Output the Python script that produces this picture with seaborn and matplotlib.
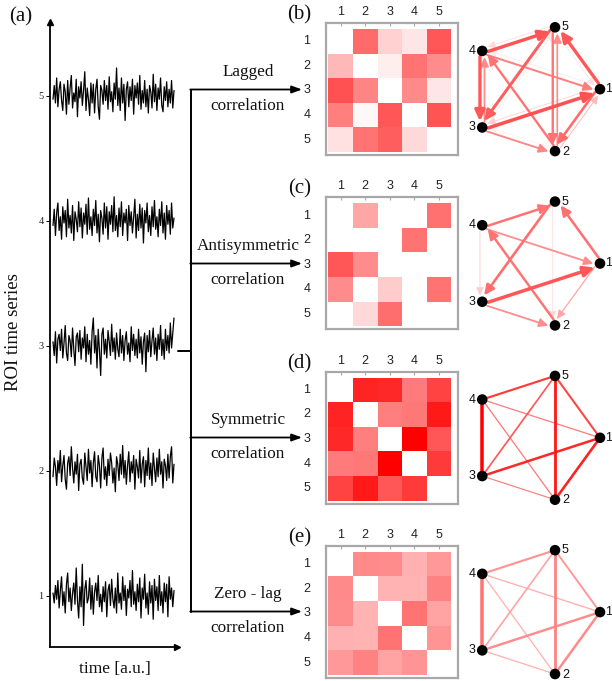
import numpy as np
import pandas as pd
import matplotlib
matplotlib.use("Agg")
import matplotlib.pyplot as plt
import seaborn as sns
from matplotlib.colors import LinearSegmentedColormap
from matplotlib.patches import FancyArrowPatch

sns.set_theme(style="white")
plt.rcParams["font.family"] = ["Liberation Serif", "DejaVu Serif"]

# ---------------------------------------------------------------- data
roi_labels = ["1", "2", "3", "4", "5"]

# ROI signals, deviations from each ROI's baseline (hundredths of a unit)
roi1 = [2, -6, 8, -3, 12, -10, 4, 15, -8, 3,
        -14, 9, 18, -5, 6, -12, 2, 10, -7, 22,
        -4, -18, 7, -9, 25, -24, 5, 12, -6, -2,
        14, -11, 8, -15, 3, 10, -4, 16, -9, 1,
        -13, 7, -5, 11, -17, 4, 9, -8, 13, -3,
        -10, 6, -14, 18, -6, 2, -11, 15, -4, 8,
        -16, 5, -2, 12, -9, 20, -7, 3, -12, 9,
        -5, 14, -18, 6, -3, 17, -10, 2, -15, 11,
        -6, 8, -19, 13, -4, 7, -12, 16, -8, 3,
        -14, 10, -5, 9, -17, 15, -3, 6, -9, 4]
roi2 = [-5, 10, 3, -12, 8, -2, 16, -9, 4, 12,
        -7, -15, 6, 11, -4, 19, 2, -10, 7, -3,
        13, -16, 5, 9, -6, -11, 14, 3, -8, 17,
        -2, 8, -13, 6, 15, -5, -9, 12, 4, -14,
        10, 18, -7, 3, -12, 9, -4, 14, 6, -10,
        2, -17, 11, 5, -8, 13, -3, 20, -6, 8,
        -11, 4, 15, -9, 7, -2, 12, -15, 9, 3,
        -6, 16, -10, 5, 11, -13, 8, -4, 18, -7,
        6, -12, 14, 2, -9, 10, -5, 17, -3, 7,
        -14, 9, 4, -8, 13, -6, 11, 19, -10, 5]
roi3 = [3, -8, 11, -14, 5, 9, -4, 13, -10, 2,
        16, -6, -12, 8, 4, -9, 14, -3, -16, 7,
        10, -5, 12, -11, 6, -2, 15, -13, 9, -7,
        4, -15, 11, 22, -6, 8, -18, 13, -4, -24,
        9, 14, -7, 5, -10, 12, 3, -8, 17, -5,
        6, -11, 10, -3, -9, 13, -6, 8, -12, 4,
        11, -7, 2, -13, 15, -4, 9, -8, 5, -10,
        13, -6, 7, -15, 3, 10, -21, 8, -5, 12,
        -9, 4, 14, -7, 6, -12, 9, -3, 16, -8,
        5, -11, 13, -4, 8, -6, 18, -2, 10, 22]
roi4 = [-4, 9, -12, 6, 14, -8, 3, -15, 11, -2,
        8, -13, 17, -6, 4, -10, 12, -16, 7, 1,
        -9, 15, -5, 10, -14, 6, -3, 13, -11, 18,
        -7, 3, -12, 9, -4, 16, -10, 5, -17, 8,
        2, -11, 14, -6, 11, -15, 7, -3, 12, -9,
        19, -8, 4, -13, 10, -5, 15, -12, 6, -2,
        9, -16, 12, -4, 7, -10, 3, 17, -14, 5,
        -8, 13, -6, 10, -18, 8, -2, 14, -9, 4,
        -12, 11, -5, 16, -7, 3, -13, 9, -4, 15,
        -10, 6, -15, 12, -3, 8, -11, 14, -6, 2]
roi5 = [-3, 8, -6, 14, -9, 5, 11, -4, -12, 9,
        3, -15, 12, -7, 6, 16, -10, 2, -5, 13,
        -17, 7, -2, 11, -8, 4, 19, -12, 6, -3,
        -16, 10, -6, 9, -14, 5, 13, -9, -19, 8,
        4, -7, 12, -4, 8, -11, 15, -5, 3, -13,
        10, -3, 22, -8, 6, -12, 14, -6, 9, -20,
        5, 11, -9, 7, -4, 13, -15, 8, -2, 10,
        -7, 16, -11, 4, -6, 12, -9, 5, -14, 8,
        3, -10, 17, -5, 9, -12, 6, -3, 14, -8,
        -13, 7, -4, 11, -9, 5, -6, 12, -10, 4]
roi_series = [roi1, roi2, roi3, roi4, roi5]

# connectivity matrices (row = source ROI, column = target ROI)
lagged = [[0.00, 0.58, 0.18, 0.10, 0.66],
          [0.28, 0.00, 0.07, 0.55, 0.45],
          [0.68, 0.48, 0.00, 0.46, 0.10],
          [0.50, 0.03, 0.66, 0.00, 0.67],
          [0.12, 0.55, 0.63, 0.15, 0.00]]
antisym = [[0.00, 0.35, 0.00, 0.00, 0.56],
           [0.00, 0.00, 0.00, 0.55, 0.00],
           [0.66, 0.45, 0.00, 0.00, 0.00],
           [0.45, 0.00, 0.20, 0.00, 0.55],
           [0.00, 0.15, 0.57, 0.00, 0.00]]
symmetric = [[0.00, 0.86, 0.84, 0.52, 0.74],
             [0.86, 0.00, 0.50, 0.53, 0.90],
             [0.84, 0.50, 0.00, 1.00, 0.66],
             [0.52, 0.53, 1.00, 0.00, 0.77],
             [0.74, 0.90, 0.66, 0.77, 0.00]]
zerolag = [[0.00, 0.46, 0.45, 0.31, 0.40],
           [0.46, 0.00, 0.30, 0.30, 0.49],
           [0.45, 0.30, 0.00, 0.55, 0.36],
           [0.31, 0.30, 0.55, 0.00, 0.42],
           [0.40, 0.49, 0.36, 0.42, 0.00]]

matrices = [lagged, antisym, symmetric, zerolag]
directed = [True, True, False, False]
method_top = ["Lagged", "Antisymmetric", "Symmetric", "Zero - lag"]
method_bottom = "correlation"
panel_tags = ["(b)", "(c)", "(d)", "(e)"]

# ---------------------------------------------------------------- figure
W, H = 612, 681
fig = plt.figure(figsize=(W / 100, H / 100), dpi=100)
cmap = LinearSegmentedColormap.from_list("white_red", ["#ffffff", "#ff0000"])
SANS = "Liberation Sans"


def px_axes(x0, y0, x1, y1):
    """Axes from a pixel box measured from the top-left corner."""
    return fig.add_axes([x0 / W, 1 - y1 / H, (x1 - x0) / W, (y1 - y0) / H])


# ---- (a) ROI time series
ax_a = px_axes(50, 22, 177, 647)
long = pd.concat(
    [pd.DataFrame({"t": np.arange(len(s)), "value": k + 1 + np.asarray(s) / 100.0, "roi": k + 1})
     for k, s in enumerate(roi_series)],
    ignore_index=True)
sns.lineplot(data=long, x="t", y="value", units="roi", estimator=None,
             color="black", lw=0.9, ax=ax_a)
n = len(roi1)
step = 121 / (n - 1)
ax_a.set_xlim(-3 / step, -3 / step + 127 / step)
ax_a.set_ylim(0.588, 5.588)
ax_a.set_yticks([1, 2, 3, 4, 5])
ax_a.set_yticklabels(roi_labels)
ax_a.set_xticks([])
ax_a.set_xlabel("")
ax_a.set_ylabel("")
ax_a.patch.set_alpha(0)
for side in ["top", "right"]:
    ax_a.spines[side].set_visible(False)
for side in ["left", "bottom"]:
    ax_a.spines[side].set_color("black")
    ax_a.spines[side].set_linewidth(1.3)
ax_a.tick_params(axis="y", left=True, length=3, width=0.7, color="black",
                 labelsize=7.5, pad=1.5, labelcolor="#222222")
ax_a.plot(1, 0, marker=">", ms=5, color="black", transform=ax_a.transAxes, clip_on=False)
ax_a.plot(0, 1, marker="^", ms=5, color="black", transform=ax_a.transAxes, clip_on=False)

fig.text(14 / W, 1 - 332 / H, "ROI time series", rotation=90, ha="center", va="center",
         fontsize=13.5, color="#111111")
fig.text(114.5 / W, 1 - 669 / H, "time [a.u.]", ha="center", va="center",
         fontsize=12.5, color="#111111")
fig.text(21 / W, 1 - 17 / H, "(a)", ha="center", va="center", fontsize=15, color="#111111")

# ---- (b)-(e) matrices and graphs
PANEL_STEP = 174.3
angles = np.deg2rad([0, -72, -144, 144, 72])
node_xy = np.column_stack([np.cos(angles), np.sin(angles)])
label_off = [(0.13, 0.0), (0.16, -0.01), (-0.16, 0.0), (-0.15, 0.0), (0.16, 0.0)]
R_PX = 65.1  # pentagon radius in pixels


def edge_width_px(v, vmax):
    return 0.7 + 2.8 * (v / vmax) ** 2.5


for i, (mat, tag) in enumerate(zip(matrices, panel_tags)):
    arr = np.array(mat)
    top = 23 + PANEL_STEP * i

    ax = px_axes(325.7, top, 458, top + 132)
    sns.heatmap(arr, ax=ax, cmap=cmap, vmin=0, vmax=1, cbar=False,
                xticklabels=roi_labels, yticklabels=roi_labels, linewidths=0)
    ax.set_xlim(-0.11, 5.27)
    ax.set_ylim(5.12, -0.24)
    ax.xaxis.tick_top()
    for sp in ax.spines.values():
        sp.set_visible(True)
        sp.set_color("#a8a8a8")
        sp.set_linewidth(1.6)
    ax.tick_params(axis="x", top=True, bottom=False, length=2, width=0.8,
                   direction="in", color="#a8a8a8", labelsize=9, pad=3.5)
    ax.tick_params(axis="y", left=False, labelsize=9, pad=5, labelrotation=0)
    for lab in ax.get_xticklabels() + ax.get_yticklabels():
        lab.set_fontfamily(SANS)
        lab.set_color("#222222")

    fig.text(299.5 / W, 1 - (top - 8) / H, tag, ha="center", va="center",
             fontsize=15, color="#111111")

    # graph of the same matrix
    cy = 89.2 + PANEL_STEP * i
    half = 77
    gx = px_axes(534.9 - half, cy - half, 534.9 + half, cy + half)
    lim = half / R_PX
    gx.set_xlim(-lim, lim)
    gx.set_ylim(-lim, lim)
    gx.set_axis_off()

    vmax = arr.max()
    if directed[i]:
        pairs = [(a, b) for a in range(5) for b in range(5) if a != b and arr[a, b] > 0]
    else:
        pairs = [(a, b) for a in range(5) for b in range(a + 1, 5)]
    pairs.sort(key=lambda p: arr[p[0], p[1]])
    for a, b in pairs:
        v = arr[a, b]
        lw = edge_width_px(v, vmax) * 0.72
        col = cmap(v)
        p0, p1 = node_xy[a], node_xy[b]
        if directed[i]:
            d = (p1 - p0) / np.linalg.norm(p1 - p0)
            off = np.array([d[1], -d[0]]) * 0.035
            arrow = FancyArrowPatch(p0 + off, p1 + off,
                                    arrowstyle="-|>,head_length=0.55,head_width=0.26",
                                    mutation_scale=8 + 1.5 * lw, lw=lw, color=col,
                                    shrinkA=4, shrinkB=4.5, zorder=2)
            gx.add_patch(arrow)
        else:
            gx.plot([p0[0], p1[0]], [p0[1], p1[1]], color=col, lw=lw,
                    solid_capstyle="round", zorder=2)

    sns.scatterplot(x=node_xy[:, 0], y=node_xy[:, 1], s=58, color="black",
                    edgecolor="none", ax=gx, zorder=5)
    for k in range(5):
        gx.text(node_xy[k, 0] + label_off[k][0], node_xy[k, 1] + label_off[k][1],
                roi_labels[k], ha="center", va="center", fontsize=9,
                fontfamily=SANS, color="#111111", zorder=6)

# ---- branching arrows from (a) to the four measures
ov = fig.add_axes([0, 0, 1, 1])
ov.set_xlim(0, W)
ov.set_ylim(H, 0)
ov.set_axis_off()
ov.patch.set_alpha(0)
arrow_y = [89.5 + 174.0 * k for k in range(4)]
ov.plot([178, 191], [351, 351], color="black", lw=1.4)
ov.plot([191, 191], [arrow_y[0], arrow_y[-1]], color="black", lw=1.4)
for k, y in enumerate(arrow_y):
    ov.annotate("", xy=(302, y), xytext=(190.3, y),
                arrowprops=dict(arrowstyle="-|>,head_length=0.6,head_width=0.22",
                                color="black", lw=1.3, shrinkA=0, shrinkB=0,
                                mutation_scale=10))
    ov.text(248, y - 18, method_top[k], ha="center", va="center", fontsize=12.3,
            color="#111111")
    ov.text(248, y + 17, method_bottom, ha="center", va="center", fontsize=12.3,
            color="#111111")

fig.savefig("out.png", dpi=100)
